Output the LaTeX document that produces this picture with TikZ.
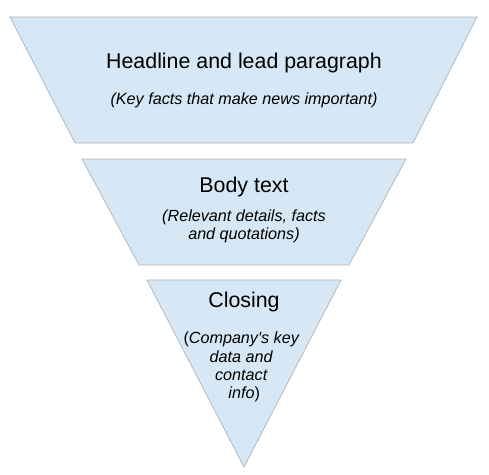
\documentclass[tikz,border=0pt]{standalone}
\usepackage{fontspec}
\setmainfont{Liberation Sans}
\usetikzlibrary{positioning}

\definecolor{bandfill}{RGB}{214,232,245}
\definecolor{bandline}{RGB}{178,178,178}

\begin{document}
\begin{tikzpicture}[
    band/.style={draw=bandline, fill=bandfill, line width=0.5pt, line join=miter},
    headtext/.style={text=black, anchor=center, font=\fontsize{15.2}{18}\selectfont},
    subtext/.style={text=black, anchor=center, align=center, font=\fontsize{11.5}{12.9}\selectfont\itshape}
]
\useasboundingbox (0,0) rectangle (12.225,11.85);

\draw[band] (0.25,11.425) -- (11.925,11.425) -- (10.325,8.275) -- (1.875,8.275) -- cycle;
\node[headtext] (lead) at (6.1, 10.275) {Headline and lead paragraph};
\node[subtext] (leadsub) at (6.1, 9.35) {(Key facts that make news important)};

\draw[band] (2.05,7.875) -- (10.15,7.875) -- (8.725,5.225) -- (3.475,5.225) -- cycle;
\node[headtext] (body) at (6.1, 7.175) {Body text};
\node[subtext] (bodysub) at (6.1, 6.2) {(Relevant details, facts\\and quotations)};

\draw[band] (3.675,4.85) -- (8.525,4.85) -- (6.1,0.175) -- cycle;
\node[headtext] (closing) at (6.1, 4.3) {Closing};
\node[subtext] (closingsub) at (6.03, 2.675) {\textup{(}Company\textquotesingle s key\\data and\\contact\\\hspace*{0.15cm}info\textup{)}};

\end{tikzpicture}
\end{document}
